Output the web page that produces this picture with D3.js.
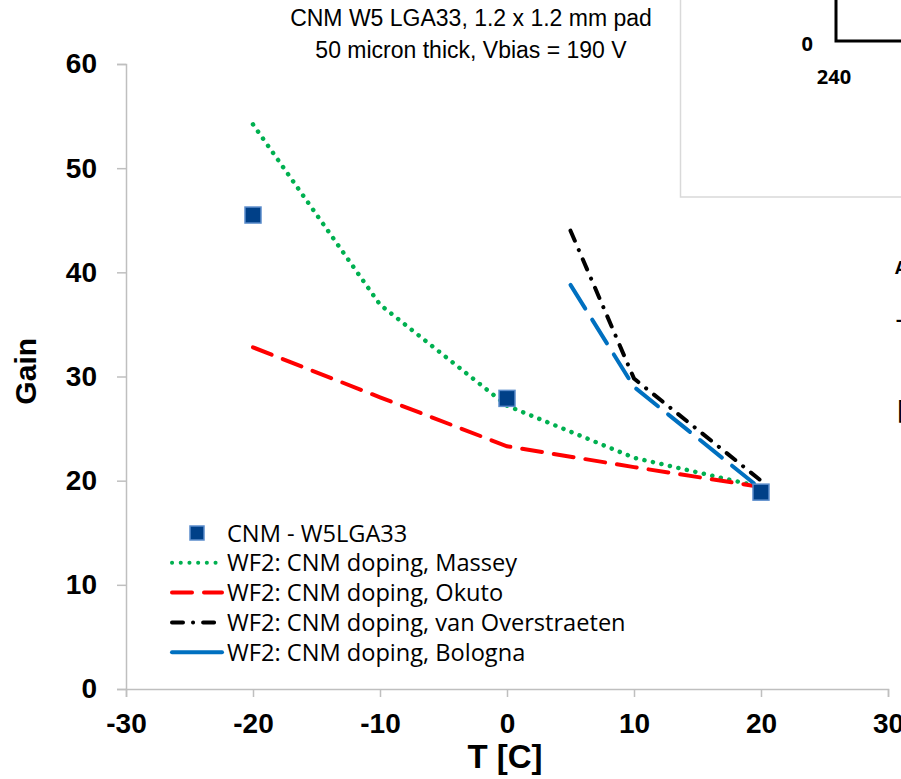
<!DOCTYPE html>
<html>
<head>
<meta charset="utf-8">
<script src="https://cdn.jsdelivr.net/npm/d3@7"></script>
<style>
  body { margin: 0; background: #fff; }
  svg { display: block; }
  .tick text { font-family: "Liberation Sans", Arial, sans-serif; font-weight: bold; }
</style>
</head>
<body>
<div id="chart"></div>
<script>
// Data
var measTemps = [-20, 0, 20];
var measGain = [45.5, 27.9, 18.9];

var simTemps = [-20, -10, 0, 10, 20];
var masseyGain = [54.2, 36.9, 27.2, 22.2, 19.4];
var okutoGain = [32.8, 28.0, 23.3, 21.3, 19.4];

var vanTemps = [5, 10, 20];
var vanGain = [44.0, 29.8, 20.0];
var bolognaGain = [38.8, 29.0, 19.2];

var xTicks = [-30, -20, -10, 0, 10, 20, 30];
var yTicks = [0, 10, 20, 30, 40, 50, 60];

var legendLabels = [
  "CNM - W5LGA33",
  "WF2: CNM doping, Massey",
  "WF2: CNM doping, Okuto",
  "WF2: CNM doping, van Overstraeten",
  "WF2: CNM doping, Bologna"
];

var width = 901, height = 779;
var margin = {top: 64, right: 13, bottom: 90, left: 126};

var svg = d3.select("#chart").append("svg")
  .attr("width", width)
  .attr("height", height);

var xScale = d3.scaleLinear().domain([-30, 30]).range([margin.left, width - margin.right]);
var yScale = d3.scaleLinear().domain([0, 60]).range([height - margin.bottom, margin.top]);

// Axes (plain hyphen for negatives, like the original)
var fmt = function(d) { return String(d); };
var xAxis = d3.axisBottom(xScale).tickValues(xTicks).tickSize(8).tickPadding(16).tickFormat(fmt);
var yAxis = d3.axisLeft(yScale).tickValues(yTicks).tickSize(9).tickPadding(20).tickFormat(fmt);

var gx = svg.append("g")
  .attr("class", "x axis")
  .attr("transform", "translate(0," + yScale(0) + ")")
  .call(xAxis);
var gy = svg.append("g")
  .attr("class", "y axis")
  .attr("transform", "translate(" + xScale(-30) + ",0)")
  .call(yAxis);

[gx, gy].forEach(function(g) {
  g.select(".domain").attr("stroke", "#bfbfbf").attr("stroke-width", 1.5);
  g.selectAll(".tick line").attr("stroke", "#bfbfbf").attr("stroke-width", 1.5);
  g.selectAll(".tick text").attr("fill", "#000").style("font-size", "28px");
});
gx.selectAll(".tick text").attr("dy", "0.71em");

// Axis titles
svg.append("text")
  .attr("transform", "translate(36," + yScale(30.5) + ") rotate(-90)")
  .attr("text-anchor", "middle")
  .style("font-family", "Liberation Sans, Arial, sans-serif")
  .style("font-weight", "bold")
  .style("font-size", "30px")
  .text("Gain");

svg.append("text")
  .attr("x", xScale(0) - 2)
  .attr("y", 768)
  .attr("text-anchor", "middle")
  .style("font-family", "Liberation Sans, Arial, sans-serif")
  .style("font-weight", "bold")
  .style("font-size", "33px")
  .text("T [C]");

// Title
var title = svg.append("text")
  .attr("text-anchor", "middle")
  .style("font-family", "Liberation Sans, Arial, sans-serif")
  .style("font-size", "23px");
title.append("tspan").attr("x", 471).attr("y", 26).text("CNM W5 LGA33, 1.2 x 1.2 mm pad");
title.append("tspan").attr("x", 471).attr("y", 58).text("50 micron thick, Vbias = 190 V");

// Series lines
var line = d3.line()
  .x(function(d) { return xScale(d[0]); })
  .y(function(d) { return yScale(d[1]); });

var series = [
  {name: "massey", temps: simTemps, gain: masseyGain, color: "#00b050", dash: "0.1 8.6"},
  {name: "okuto", temps: simTemps, gain: okutoGain, color: "#ff0000", dash: "20 12"},
  {name: "van", temps: vanTemps, gain: vanGain, color: "#000000", dash: "11 10 0.1 10"},
  {name: "bologna", temps: vanTemps, gain: bolognaGain, color: "#0070c0", dash: "28 13"}
];

svg.append("g").attr("class", "lines")
  .selectAll("path")
  .data(series)
  .enter().append("path")
  .attr("d", function(s) { return line(d3.zip(s.temps, s.gain)); })
  .attr("fill", "none")
  .attr("stroke", function(s) { return s.color; })
  .attr("stroke-width", function(s) { return s.name === "massey" ? 4.5 : 4; })
  .attr("stroke-linecap", "round")
  .attr("stroke-dasharray", function(s) { return s.dash; });

// Measured points
var sq = 16;
svg.append("g").attr("class", "points")
  .selectAll("rect")
  .data(d3.zip(measTemps, measGain))
  .enter().append("rect")
  .attr("x", function(d) { return xScale(d[0]) - sq / 2; })
  .attr("y", function(d) { return yScale(d[1]) - sq / 2; })
  .attr("width", sq)
  .attr("height", sq)
  .attr("fill", "#004088")
  .attr("stroke", "#5b8ccb")
  .attr("stroke-width", 1.5);

// Legend
var legend = svg.append("g").attr("class", "legend").attr("transform", "translate(170,533)");
var rowH = 29.8;
legend.selectAll("text")
  .data(legendLabels)
  .enter().append("text")
  .attr("x", 57)
  .attr("y", function(d, i) { return i * rowH + 8.5; })
  .style("font-family", "Open Sans, sans-serif")
  .style("font-size", "23.6px")
  .attr("fill", "#000")
  .text(function(d) { return d; });

legend.append("rect")
  .attr("x", 20).attr("y", -7).attr("width", 14).attr("height", 14)
  .attr("fill", "#004088").attr("stroke", "#5b8ccb").attr("stroke-width", 1.5);

series.forEach(function(s, i) {
  legend.append("line")
    .attr("x1", 2).attr("x2", 52)
    .attr("y1", (i + 1) * rowH).attr("y2", (i + 1) * rowH)
    .attr("stroke", s.color)
    .attr("stroke-width", 4)
    .attr("stroke-linecap", "round")
    .attr("stroke-dasharray", s.name === "bologna" ? null : s.dash);
});

// Overlapping inset from another chart (top right)
var inset = svg.append("g").attr("class", "inset");
inset.append("rect")
  .attr("x", 680.5).attr("y", -2).attr("width", 240).attr("height", 199)
  .attr("fill", "#fff").attr("stroke", "#d9d9d9").attr("stroke-width", 1.5);
inset.append("path")
  .attr("d", "M836,-2V41H905")
  .attr("fill", "none").attr("stroke", "#000").attr("stroke-width", 3);
inset.append("text")
  .attr("x", 813).attr("y", 51).attr("text-anchor", "end")
  .style("font-family", "Open Sans, sans-serif").style("font-weight", "bold").style("font-size", "20px")
  .text("0");
inset.append("text")
  .attr("x", 834).attr("y", 84).attr("text-anchor", "middle")
  .style("font-family", "Open Sans, sans-serif").style("font-weight", "bold").style("font-size", "20px")
  .text("240");

// Clipped fragments of text at the right edge (cut off in the original too)
var frag = svg.append("g").style("font-family", "Open Sans, sans-serif").style("font-weight", "bold").style("font-size", "18px");
frag.append("text").attr("x", 895).attr("y", 274).text("A");
frag.append("text").attr("x", 896).attr("y", 326).text("-");
frag.append("text").attr("x", 897).attr("y", 418).style("font-size", "26px").style("font-weight", "normal").text("[");
</script>
</body>
</html>
